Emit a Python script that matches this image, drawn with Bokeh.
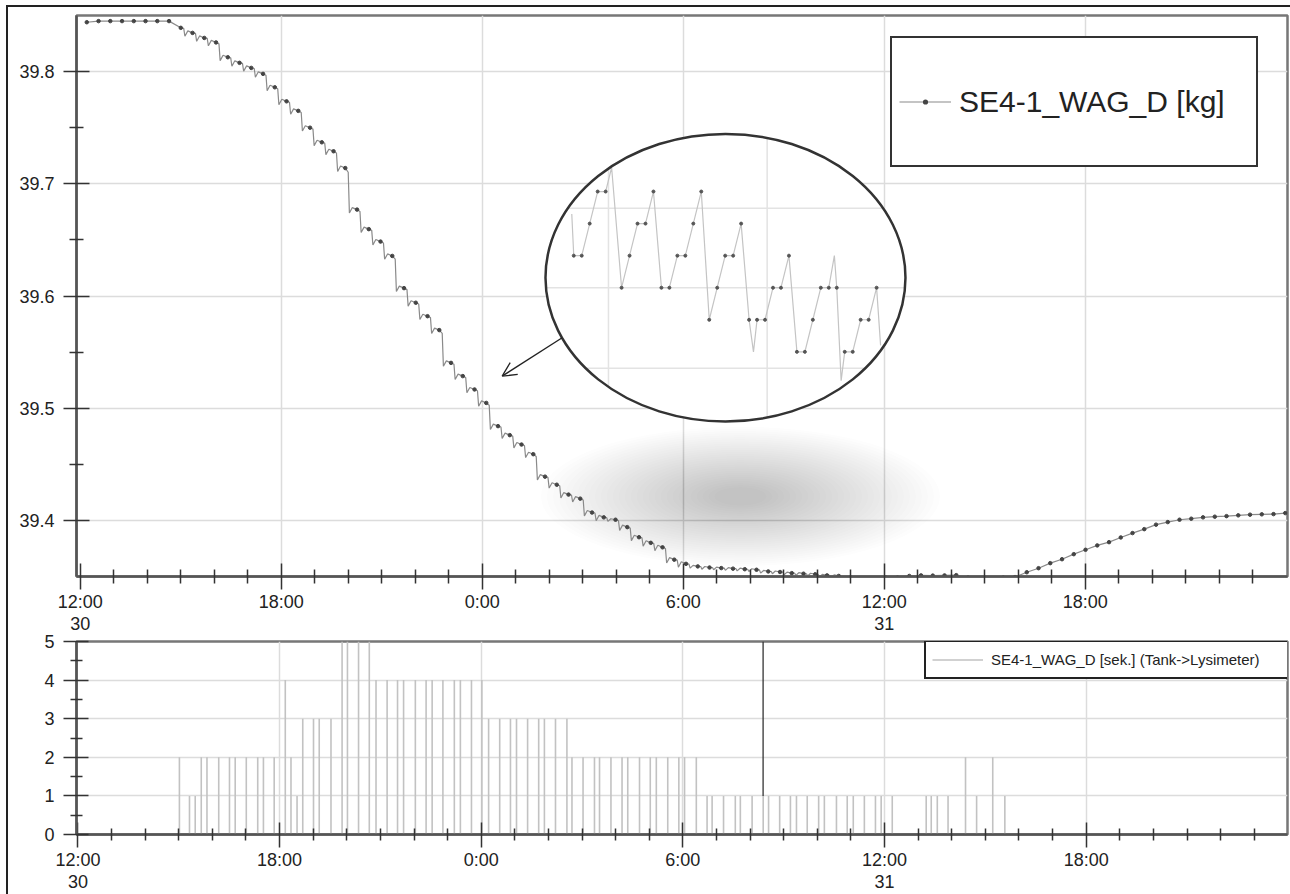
import math
from bokeh.plotting import figure
from bokeh.models import (Range1d, FixedTicker, Legend, LegendItem, Arrow, OpenHead,
                          Div, PrintfTickFormatter)
from bokeh.layouts import row, column
from bokeh.embed import file_html
from bokeh.resources import INLINE

# ------------------------------------------------------------------ data
# time axis: hours counted from 0:00 on day 30
x_major = [12, 18, 24, 30, 36, 42]
x_labels = ["12:00\n30", "18:00", "0:00", "6:00", "12:00\n31", "18:00"]
x_minor = [h for h in range(12, 48) if h % 6]

# upper panel: balance weight, one plotted reading every ~21 minutes
weight_start_h = 12.197
weight_step_h = 0.35075
weight_kg = [
    39.844, 39.845, 39.845, 39.845, 39.845, 39.845, 39.845, 39.845,
    39.839, 39.8345, 39.830, 39.826, 39.8128, 39.8078, 39.8033, 39.798,
    39.786, 39.7735, 39.765, 39.750, 39.737, 39.729, 39.714, 39.677,
    39.6596, 39.6485, 39.6357, 39.607, 39.594, 39.582, 39.5696, 39.5404,
    39.5286, 39.5167, 39.5047, 39.484, 39.476, 39.4676, 39.459, 39.439,
    39.4318, 39.423, 39.4194, 39.407, 39.4027, 39.4006, 39.394, 39.385,
    39.380, 39.376, 39.365, 39.3613, 39.359, 39.358, 39.3575, 39.357,
    39.3565, 39.356, 39.3545, 39.354, 39.353, 39.3525, 39.352, 39.351,
    39.3505, 39.349, 39.348, 39.348, 39.349, 39.349, 39.3505, 39.351,
    39.3508, 39.351, 39.3512, 39.349, 39.348, 39.348, 39.349, 39.3495,
    39.3538, 39.3574, 39.3619, 39.3654, 39.3699, 39.3738, 39.3777, 39.3806,
    39.3848, 39.3887, 39.3922, 39.3962, 39.3985, 39.4006, 39.4015, 39.4027,
    39.4033, 39.4038, 39.4045, 39.4051, 39.4054, 39.4056, 39.4065,
]
# pump rebound seen between readings during the outflow phase
saw_first, saw_last = 8, 64
wiggle_kg = 0.003
weight_label = "SE4-1_WAG_D [kg]"

# lower panel: pump seconds per event (Tank->Lysimeter)
irr_t_h = [
    15.02, 15.32, 15.49, 15.67, 15.84, 16.19, 16.51, 16.68, 17.01, 17.35, 17.52, 17.84,
    18.17, 18.34, 18.52, 18.69, 19.01, 19.18, 19.53, 19.86, 20.02, 20.35, 20.67,
    20.87, 21.20, 21.51, 21.69, 22.04, 22.36, 22.54, 22.86, 23.20, 23.38, 23.71, 24.02,
    24.22, 24.55, 24.87, 25.05, 25.38, 25.71, 25.88, 26.21, 26.55,
    26.70, 27.03, 27.37, 27.52, 27.86, 28.19, 28.36, 28.71, 29.03, 29.21, 29.55, 29.88, 30.05, 30.40,
    30.72, 30.87, 31.21, 31.56, 31.71, 32.06, 32.39, 32.55, 32.88, 33.20, 33.38, 33.70,
    34.04, 34.21, 34.57, 34.89, 35.07, 35.40, 35.73, 35.90, 36.23, 37.24, 37.39, 37.57, 37.89,
    38.41, 38.74, 39.22, 39.58,
]
irr_sec = [
    2, 1, 1, 2, 2, 2, 2, 2, 2, 2, 2, 2,
    4, 2, 1, 3, 3, 3, 3, 5, 5, 5, 5,
    4, 4, 4, 4, 4, 4, 4, 4, 4, 4, 4, 4,
    3, 3, 3, 3, 3, 3, 3, 3, 3,
    2, 2, 2, 2, 2, 2, 2, 2, 2, 2, 2, 2, 2, 2,
    1, 1, 1, 1, 1, 1, 1, 1, 1, 1, 1, 1,
    1, 1, 1, 1, 1, 1, 1, 1, 1, 1, 1, 1, 1,
    2, 1, 2, 1,
]
cursor_t_h = 32.387
cursor_sec = [1, 5]
irr_label = "SE4-1_WAG_D [sek.] (Tank->Lysimeter)"

# magnified detail shown inside the callout (sample slot, quantisation level)
inset_line_slot = [-0.25, 0, 1, 2, 3, 4, 4.75, 6, 7, 8, 9, 10, 11, 12, 13, 14, 15, 16, 17, 18,
                   19, 20, 21, 22, 22.55, 23, 24, 25, 26, 27, 28, 29, 30, 31, 32, 32.7, 33,
                   33.55, 34, 35, 36, 37, 38, 38.5]
inset_line_level = [0.7, 2, 2, 1, 0, 0, -0.75, 3, 2, 1, 1, 0, 3, 3, 2, 2, 1, 0, 4, 3,
                    2, 2, 1, 4, 5, 4, 4, 3, 3, 2, 5, 5, 4, 3, 3, 2, 3,
                    5.9, 5, 5, 4, 4, 3, 4.8]
inset_mark_slot = [0, 1, 2, 3, 4] + list(range(6, 39))
inset_mark_level = [2, 2, 1, 0, 0, 3, 2, 1, 1, 0, 3, 3, 2, 2, 1, 0, 4, 3, 2, 2, 1, 4, 4, 4,
                    3, 3, 2, 5, 5, 4, 3, 3, 3, 5, 5, 4, 4, 3]

# ------------------------------------------------------------------ styling helpers
FONT = "Liberation Sans"
TXT = "#222222"
GRID = "#dcdcdc"


def style_axes(fig, y_ticks, y_minor, y_fmt, maj_in, maj_out, min_in, min_out):
    fig.xaxis.ticker = FixedTicker(ticks=x_major, minor_ticks=x_minor)
    fig.xaxis.major_label_overrides = dict(zip(x_major, x_labels))
    fig.yaxis.ticker = FixedTicker(ticks=y_ticks, minor_ticks=y_minor)
    fig.yaxis.formatter = PrintfTickFormatter(format=y_fmt)
    for ax in (fig.xaxis[0], fig.yaxis[0]):
        ax.axis_line_color = "#555555"
        ax.axis_line_width = 2.5
        ax.major_tick_line_color = "#333333"
        ax.minor_tick_line_color = "#333333"
        ax.major_tick_line_width = 1.5
        ax.minor_tick_line_width = 1.5
        ax.major_tick_in = maj_in
        ax.major_tick_out = maj_out
        ax.minor_tick_in = min_in
        ax.minor_tick_out = min_out
        ax.major_label_text_font = FONT
        ax.major_label_text_font_size = "18px"
        ax.major_label_text_color = TXT
        ax.major_label_text_line_height = 1.1
    fig.xaxis.major_label_standoff = 2
    fig.yaxis.major_label_standoff = 9
    fig.xgrid.ticker = FixedTicker(ticks=x_major[1:])
    fig.ygrid.ticker = FixedTicker(ticks=y_ticks)
    for g in (fig.xgrid[0], fig.ygrid[0]):
        g.grid_line_color = GRID
        g.grid_line_width = 1.5
    fig.outline_line_color = "#777777"
    fig.outline_line_width = 2.5
    fig.background_fill_color = "white"


# ------------------------------------------------------------------ upper panel
p = figure(width=1282, height=629, x_range=Range1d(11.89, 48.04), y_range=Range1d(39.35, 39.85),
           output_backend="svg", toolbar_location=None,
           min_border_left=68, min_border_right=3, min_border_top=8, min_border_bottom=58)
style_axes(p, [39.4, 39.5, 39.6, 39.7, 39.8], [39.45, 39.55, 39.65, 39.75], "%.1f", 13, 13, 7, 7)
p.border_fill_color = "white"

# soft shadow under the callout
sh_x, sh_y, sh_w, sh_h = 31.71, 39.4214, 11.9, 0.124
scales = [1 - 0.03 * k for k in range(30)]
p.ellipse(x=[sh_x] * len(scales), y=[sh_y] * len(scales),
          width=[sh_w * s for s in scales], height=[sh_h * s for s in scales],
          fill_color="#5a5a5a", fill_alpha=0.012, line_alpha=0)

t_w = [weight_start_h + i * weight_step_h for i in range(len(weight_kg))]
lx, ly = [], []
for i in range(len(weight_kg) - 1):
    t0, t1 = t_w[i], t_w[i + 1]
    v0, v1 = weight_kg[i], weight_kg[i + 1]
    lx.append(t0)
    ly.append(v0)
    d = v0 - v1
    if saw_first <= i < saw_last and d > 0:
        w = wiggle_kg if d > 0.003 else wiggle_kg / 2
        dt = t1 - t0
        lx += [t0 + 0.25 * dt, t0 + 0.35 * dt, t0 + 0.6 * dt]
        ly += [v0 - 0.1 * d, v1 - w, v1 + 0.6 * w]
lx.append(t_w[-1])
ly.append(weight_kg[-1])
line_r = p.line(lx, ly, line_color="#8a8a8a", line_width=1.2)
mark_r = p.scatter(t_w, weight_kg, size=3.5, marker="circle", color="#444444")
# legend-only glyph: a small reading dot on the legend's line sample (kept off-range)
legend_dot = p.scatter(x=[0], y=[0], marker="dot", size=8, line_color="#444444",
                       fill_color="#444444", line_width=1)

# callout ellipse with magnified detail
ex, ey, ew, eh = 31.263, 39.6163, 10.746, 0.25625
p.ellipse(x=[ex], y=[ey], width=[ew], height=[eh], fill_color="white", line_alpha=0)
in_x0, in_dx, in_y0, in_dy = 26.734, 0.2379, 39.6931, -0.028571
for gy in [39.6783, 39.6074, 39.5355]:
    e = (gy - ey) / (eh / 2)
    half = ew / 2 * math.sqrt(1 - e * e)
    p.segment(x0=[ex - half], y0=[gy], x1=[ex + half], y1=[gy], line_color="#e3e3e3", line_width=1.5)
for gx in [27.770, 32.507]:
    e = (gx - ex) / (ew / 2)
    half = eh / 2 * math.sqrt(1 - e * e)
    p.segment(x0=[gx], y0=[ey - half], x1=[gx], y1=[ey + half], line_color="#e3e3e3", line_width=1.5)
p.line([in_x0 + s * in_dx for s in inset_line_slot], [in_y0 + l * in_dy for l in inset_line_level],
       line_color="#c4c4c4", line_width=1.2)
p.scatter([in_x0 + s * in_dx for s in inset_mark_slot], [in_y0 + l * in_dy for l in inset_mark_level],
          size=3, marker="circle", color="#555555")
p.ellipse(x=[ex], y=[ey], width=[ew], height=[eh], fill_alpha=0, line_color="#333333", line_width=2.5)

p.add_layout(Arrow(end=OpenHead(size=14, line_color="#222222", line_width=1.3),
                   x_start=26.388, y_start=39.5628, x_end=24.597, y_end=39.5286,
                   line_color="#222222", line_width=1.3))

leg_top = Legend(items=[LegendItem(label=weight_label, renderers=[line_r, legend_dot])],
                 location=(814, 409), orientation="vertical",
                 padding=7, margin=0, spacing=0,
                 glyph_width=52, glyph_height=113, label_height=113, label_width=290,
                 label_standoff=8,
                 label_text_font=FONT, label_text_font_size="30px", label_text_color=TXT,
                 border_line_color="#333333", border_line_width=2.5, border_line_alpha=1,
                 background_fill_color="white", background_fill_alpha=1)
p.add_layout(leg_top)

# ------------------------------------------------------------------ lower panel
q = figure(width=1282, height=270, x_range=Range1d(11.958, 47.99), y_range=Range1d(0, 5),
           output_backend="svg", toolbar_location=None, margin=(-12, 0, 0, 0),
           min_border_left=68, min_border_right=3, min_border_top=17, min_border_bottom=58)
style_axes(q, [0, 1, 2, 3, 4, 5], [0.5, 1.5, 2.5, 3.5, 4.5], "%d", 12, 13, 6, 6)
q.ygrid.ticker = FixedTicker(ticks=[1, 2, 3, 4])
q.border_fill_color = None
q.border_fill_alpha = 0

needle_r = q.segment(x0=irr_t_h, y0=[0] * len(irr_t_h), x1=irr_t_h, y1=irr_sec,
                     line_color="#c2c2c2", line_width=1.6)
q.segment(x0=[cursor_t_h], y0=[cursor_sec[0]], x1=[cursor_t_h], y1=[cursor_sec[1]],
          line_color="#333333", line_width=1.3)

leg_bot = Legend(items=[LegendItem(label=irr_label, renderers=[needle_r])],
                 location=(848, 155), orientation="vertical",
                 padding=6, margin=0, spacing=0,
                 glyph_width=51, glyph_height=23, label_height=23, label_width=292,
                 label_standoff=8,
                 label_text_font=FONT, label_text_font_size="15px", label_text_color=TXT,
                 border_line_color="#222222", border_line_width=2, border_line_alpha=1,
                 background_fill_color="white", background_fill_alpha=1)
q.add_layout(leg_bot)

# ------------------------------------------------------------------ page frame lines
left_col = column(Div(width=8, height=5, margin=0),
                  Div(width=8, height=889, margin=0,
                      styles={"border-right": "2px solid #222", "box-sizing": "border-box"}),
                  margin=0, spacing=0)
top_bar = Div(width=1282, height=7, margin=0,
              styles={"border-bottom": "2px solid #222", "box-sizing": "border-box"})
layout = row(left_col, column(top_bar, p, q, margin=0, spacing=0), margin=0, spacing=0)

open("out.html", "w").write(file_html(layout, INLINE))
